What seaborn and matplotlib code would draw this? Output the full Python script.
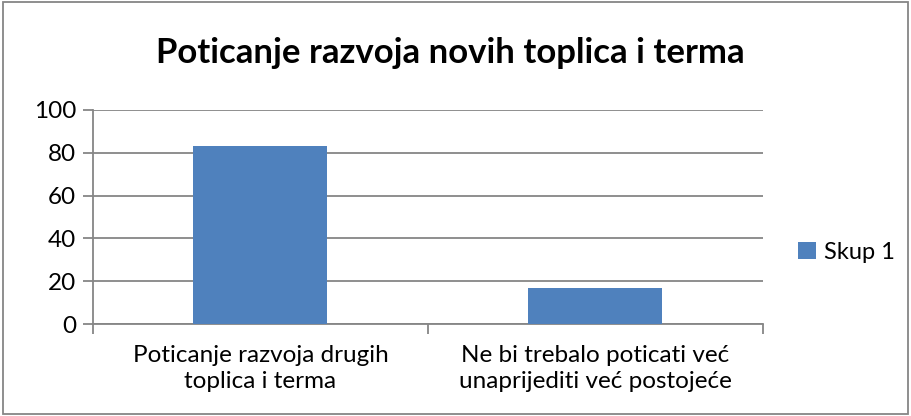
import matplotlib
matplotlib.use("Agg")
import matplotlib.pyplot as plt
import seaborn as sns
import pandas as pd
from matplotlib.patches import Rectangle

# chart data
categories = ["Poticanje razvoja drugih\ntoplica i terma",
              "Ne bi trebalo poticati već\nunaprijediti već postojeće"]
values = [83, 17]
series_name = "Skup 1"
title = "Poticanje razvoja novih toplica i terma"
y_ticks = [0, 20, 40, 60, 80, 100]

df = pd.DataFrame({"kategorija": categories, "vrijednost": values})

sns.set_style("white")
plt.rcParams["font.family"] = ["Lato", "DejaVu Sans"]
plt.rcParams["text.color"] = "black"
plt.rcParams["xtick.labelcolor"] = "black"
plt.rcParams["ytick.labelcolor"] = "black"

grid_col = "#868686"
bar_col = "#4F81BD"

fig = plt.figure(figsize=(9.11, 4.16), dpi=100)
ax = fig.add_axes([0.102, 0.221, 0.7355, 0.515])

sns.barplot(data=df, x="kategorija", y="vrijednost", color=bar_col,
            width=0.4, saturation=1, linewidth=0, ax=ax, zorder=3)

ax.set_ylim(0, 100)
ax.set_xlim(-0.5, 1.5)
ax.set_yticks(y_ticks)
ax.yaxis.grid(True, color=grid_col, linewidth=1.3, zorder=0)
ax.set_xlabel("")
ax.set_ylabel("")

for s in ["top", "right"]:
    ax.spines[s].set_visible(False)
for s in ["left", "bottom"]:
    ax.spines[s].set_color(grid_col)
    ax.spines[s].set_linewidth(1.3)

ax.tick_params(axis="y", left=True, length=7, width=1.3, color=grid_col,
               labelsize=17.5, pad=5, direction="out", labelcolor="black")
ax.tick_params(axis="x", which="major", bottom=True, length=0, labelsize=17.5,
               pad=15, labelcolor="black")
ax.set_xticks([-0.5, 0.5, 1.5], minor=True)
ax.tick_params(axis="x", which="minor", bottom=True, length=7, width=1.3, color=grid_col)
for lbl in ax.get_xticklabels():
    lbl.set_linespacing(1.3)

fig.text(0.494, 0.872, title, ha="center", va="center",
         fontsize=25, fontweight="bold", color="black")

fig.legend(handles=ax.patches[:1], labels=[series_name], loc="center left",
           bbox_to_anchor=(0.876, 0.394), frameon=False, fontsize=17,
           handlelength=0.75, handleheight=0.75, handletextpad=0.35,
           borderpad=0, borderaxespad=0, labelcolor="black")

# outer chart border
fig.patches.append(Rectangle((0.003, 0.005), 0.994, 0.99, transform=fig.transFigure,
                             fill=False, edgecolor=grid_col, linewidth=1.3))

plt.savefig("out.png", dpi=100)
